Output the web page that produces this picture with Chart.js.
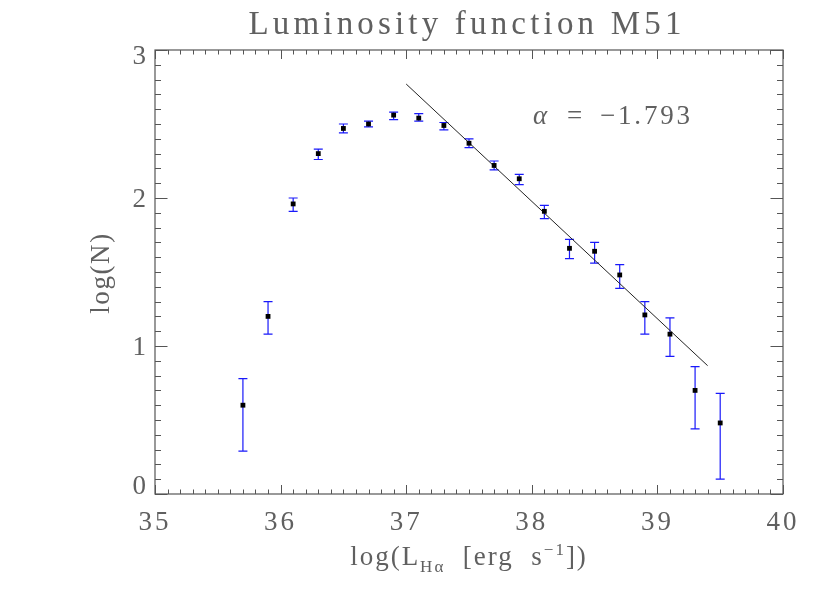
<!DOCTYPE html>
<html>
<head>
<meta charset="utf-8">
<script src="https://cdn.jsdelivr.net/npm/chart.js@4"></script>
<style>
  body { margin: 0; background: #fff; }
  canvas { display: block; }
</style>
</head>
<body>
<canvas id="lf-chart" width="830" height="593"></canvas>
<script>
// log(L_Halpha) bin centres and log(N) with error bar bounds
const logL = [35.7, 35.9, 36.1, 36.3, 36.5, 36.7, 36.9, 37.1, 37.3, 37.5, 37.7, 37.9, 38.1, 38.3, 38.5, 38.7, 38.9, 39.1, 39.3, 39.5];
const logN = [0.60, 1.20, 1.96, 2.30, 2.47, 2.50, 2.56, 2.54, 2.49, 2.37, 2.22, 2.13, 1.91, 1.66, 1.64, 1.48, 1.21, 1.08, 0.70, 0.48];
const errHi = [0.78, 1.30, 2.00, 2.33, 2.50, 2.52, 2.58, 2.57, 2.51, 2.40, 2.25, 2.16, 1.95, 1.72, 1.70, 1.55, 1.30, 1.19, 0.86, 0.68];
const errLo = [0.29, 1.08, 1.91, 2.26, 2.44, 2.48, 2.53, 2.52, 2.46, 2.34, 2.19, 2.09, 1.86, 1.59, 1.56, 1.39, 1.08, 0.93, 0.44, 0.10];

// power law fit, alpha = -1.793
const fitX = [37.0, 39.4];
const fitY = [2.77, 0.867];

const xTickLabels = ['35', '36', '37', '38', '39', '40'];
const yTickLabels = ['0', '1', '2', '3'];

const FONT = '"Liberation Serif", "DejaVu Serif", serif';
const TEXT = '#606060';

const canvas = document.getElementById('lf-chart');

function fitText(ctx, str, x, y, width) {
  ctx.letterSpacing = '0px';
  const w = ctx.measureText(str).width;
  if (width && str.length > 1) {
    ctx.letterSpacing = ((width - w) / (str.length - 1)) + 'px';
  }
  ctx.fillText(str, x, y);
  ctx.letterSpacing = '0px';
}

const errorBars = {
  id: 'errorBars',
  beforeDatasetsDraw(chart) {
    const { ctx, scales: { x, y } } = chart;
    ctx.save();
    ctx.strokeStyle = 'rgb(25,25,250)';
    ctx.lineWidth = 1.2;
    logL.forEach((v, i) => {
      const px = x.getPixelForValue(v);
      const top = y.getPixelForValue(errHi[i]);
      const bot = y.getPixelForValue(errLo[i]);
      ctx.beginPath();
      ctx.moveTo(px, top); ctx.lineTo(px, bot);
      ctx.moveTo(px - 4.5, top); ctx.lineTo(px + 4.5, top);
      ctx.moveTo(px - 4.5, bot); ctx.lineTo(px + 4.5, bot);
      ctx.stroke();
    });
    ctx.restore();
  }
};

const frame = {
  id: 'frame',
  afterDraw(chart) {
    const { ctx, chartArea: a, scales: { x, y } } = chart;
    ctx.save();
    ctx.strokeStyle = '#555';
    ctx.lineWidth = 1.2;
    ctx.strokeRect(a.left, a.top, a.right - a.left, a.bottom - a.top);

    // ticks on all four sides, pointing inward
    ctx.beginPath();
    for (let i = 0; i <= 50; i++) {
      const px = Math.round(x.getPixelForValue(35 + i / 10)) + 0.5;
      const len = i % 10 === 0 ? 9 : 4.5;
      ctx.moveTo(px, a.bottom); ctx.lineTo(px, a.bottom - len);
      ctx.moveTo(px, a.top); ctx.lineTo(px, a.top + len);
    }
    for (let i = 0; i <= 30; i++) {
      const py = Math.round(y.getPixelForValue(i / 10)) + 0.5;
      const len = i % 10 === 0 ? 12.5 : 6;
      ctx.moveTo(a.left, py); ctx.lineTo(a.left + len, py);
      ctx.moveTo(a.right, py); ctx.lineTo(a.right - len, py);
    }
    ctx.lineWidth = 1;
    ctx.stroke();

    ctx.fillStyle = TEXT;
    ctx.font = '27px ' + FONT;

    // x tick labels
    ctx.textAlign = 'center';
    ctx.textBaseline = 'middle';
    xTickLabels.forEach(t => {
      fitText(ctx, t, x.getPixelForValue(Number(t)), 523, 30);
    });

    // y tick labels
    ctx.textAlign = 'right';
    yTickLabels.forEach((t, i) => {
      let py = y.getPixelForValue(Number(t));
      if (i === 0) py -= 7;
      else if (i === yTickLabels.length - 1) py += 7;
      else py += 2;
      ctx.fillText(t, a.left - 9, py);
    });

    // title
    ctx.font = '33px ' + FONT;
    ctx.textAlign = 'center';
    ctx.textBaseline = 'alphabetic';
    fitText(ctx, 'Luminosity function M51', 467, 34, 433);

    // y axis title
    ctx.save();
    ctx.translate(109, 273);
    ctx.rotate(-Math.PI / 2);
    ctx.font = '27px ' + FONT;
    ctx.textAlign = 'center';
    fitText(ctx, 'log(N)', 0, 0, 80);
    ctx.restore();

    // x axis title with subscript and superscript
    const parts = [
      { s: 'log(L', size: 27, dy: 0 },
      { s: 'Hα', size: 17, dy: 7 },
      { s: '  [erg  s', size: 27, dy: 0 },
      { s: '−1', size: 17, dy: -10 },
      { s: '])', size: 27, dy: 0 }
    ];
    ctx.textAlign = 'left';
    ctx.letterSpacing = '2px';
    let total = 0;
    parts.forEach(p => { ctx.font = p.size + 'px ' + FONT; p.w = ctx.measureText(p.s).width; total += p.w; });
    let cx = 469 - total / 2;
    parts.forEach(p => {
      ctx.font = p.size + 'px ' + FONT;
      ctx.fillText(p.s, cx, 565 + p.dy);
      cx += p.w;
    });
    ctx.letterSpacing = '0px';

    // fit annotation
    ctx.textAlign = 'left';
    ctx.font = 'italic 27px ' + FONT;
    ctx.fillText('α', 533, 124);
    ctx.font = '27px ' + FONT;
    ctx.fillText('=', 567, 124);
    fitText(ctx, '−1.793', 600, 124, 90);
    ctx.restore();
  }
};

new Chart(canvas, {
  type: 'scatter',
  data: {
    datasets: [
      {
        type: 'line',
        label: 'fit',
        data: fitX.map((v, i) => ({ x: v, y: fitY[i] })),
        borderColor: '#222',
        borderWidth: 1,
        pointRadius: 0,
        fill: false,
        order: 2
      },
      {
        label: 'log(N)',
        data: logL.map((v, i) => ({ x: v, y: logN[i] })),
        pointStyle: 'rect',
        pointRadius: 3.4,
        backgroundColor: '#000',
        borderColor: '#000',
        borderWidth: 0,
        order: 1
      }
    ]
  },
  options: {
    responsive: false,
    animation: false,
    layout: { padding: { left: 155, right: 47, top: 50, bottom: 99 } },
    plugins: {
      legend: { display: false },
      tooltip: { enabled: false }
    },
    scales: {
      x: {
        type: 'linear', min: 35, max: 40,
        ticks: { display: false },
        grid: { display: false, drawTicks: false },
        border: { display: false }
      },
      y: {
        type: 'linear', min: 0, max: 3,
        ticks: { display: false },
        grid: { display: false, drawTicks: false },
        border: { display: false }
      }
    }
  },
  plugins: [errorBars, frame]
});
</script>
</body>
</html>
